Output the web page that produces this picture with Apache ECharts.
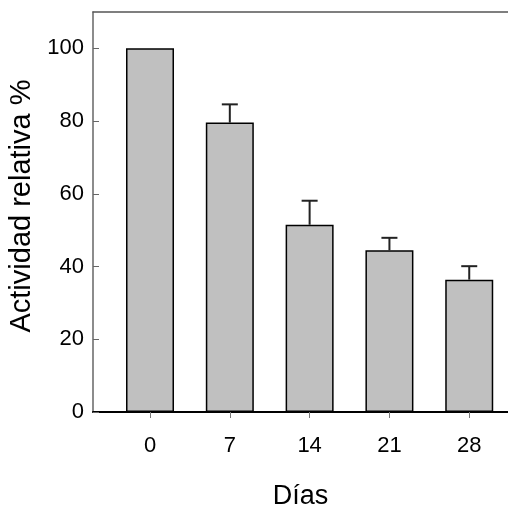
<!DOCTYPE html>
<html>
<head>
<meta charset="utf-8">
<script src="https://cdn.jsdelivr.net/npm/echarts@6/dist/echarts.min.js"></script>
<style>
html,body{margin:0;padding:0;background:#fff;}
#c{width:508px;height:512px;}
</style>
</head>
<body>
<div id="c"></div>
<script>
var days = [0, 7, 14, 21, 28];
var activity = [100, 79.6, 51.5, 44.5, 36.4];
var errorSize = [0, 5.0, 6.6, 3.4, 3.7];
var yTicks = [0, 20, 40, 60, 80, 100];

var barData = days.map(function (d, i) { return [d, activity[i]]; });
var errData = days.map(function (d, i) { return [d, activity[i], activity[i] + errorSize[i]]; });

var chart = echarts.init(document.getElementById('c'));
var font = "'Liberation Sans', Arial, sans-serif";
var labelStyle = { fontFamily: font, fontSize: 22, color: '#000' };
chart.setOption({
  animation: false,
  textStyle: { fontFamily: font },
  grid: { left: 93, right: 0, top: 12, bottom: 100, containLabel: false, outerBoundsMode: 'none' },
  xAxis: [{
    type: 'value', min: -5, max: 31.4,
    name: 'Días', nameLocation: 'middle', nameGap: 71,
    nameTextStyle: { fontFamily: font, fontSize: 27, color: '#000' },
    splitLine: { show: false },
    axisLine: { show: true, onZero: false, lineStyle: { color: '#000', width: 2 } },
    axisTick: { show: true, customValues: days, length: 6, lineStyle: { color: '#777', width: 1 } },
    axisLabel: Object.assign({ customValues: days, margin: 23 }, labelStyle)
  }, {
    type: 'value', min: -5, max: 31.4, position: 'top',
    splitLine: { show: false },
    axisLine: { show: true, onZero: false, lineStyle: { color: '#555', width: 1.5 } },
    axisTick: { show: false }, axisLabel: { show: false }
  }],
  yAxis: {
    type: 'value', min: 0, max: 110,
    name: 'Actividad relativa %', nameLocation: 'middle', nameGap: 50,
    nameTextStyle: { fontFamily: font, fontSize: 29, color: '#000', padding: [0, 0, 0, 12] },
    splitLine: { show: false },
    axisLine: { show: true, onZero: false, lineStyle: { color: '#666', width: 1.5 } },
    axisTick: { show: true, inside: true, customValues: yTicks, length: 6, lineStyle: { color: '#666', width: 1 } },
    axisLabel: Object.assign({ customValues: yTicks, margin: 9, padding: [0, 0, 9, 0] }, labelStyle)
  },
  series: [{
    type: 'bar', xAxisIndex: 0, data: barData, barWidth: 48,
    itemStyle: { color: '#c0c0c0', borderColor: '#000', borderWidth: 1.5 }
  }, {
    type: 'custom', xAxisIndex: 0, data: errData, z: 1,
    renderItem: function (params, api) {
      var x = api.value(0), lo = api.value(1), hi = api.value(2);
      if (hi <= lo) return null;
      var p0 = api.coord([x, lo]);
      var p1 = api.coord([x, hi]);
      var style = { stroke: '#222', lineWidth: 2 };
      return {
        type: 'group',
        children: [
          { type: 'line', shape: { x1: p0[0], y1: p0[1], x2: p1[0], y2: p1[1] }, style: style },
          { type: 'line', shape: { x1: p1[0] - 8, y1: p1[1], x2: p1[0] + 8, y2: p1[1] }, style: style }
        ]
      };
    }
  }]
});
</script>
</body>
</html>
